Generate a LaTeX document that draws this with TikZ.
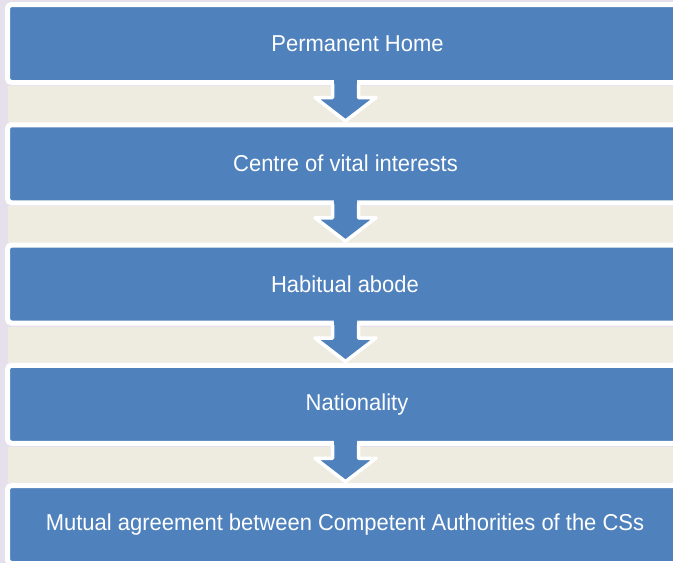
\documentclass[tikz,border=0pt]{standalone}
\usepackage{fontspec}
\setmainfont{Liberation Sans}[FakeStretch=0.955]
\definecolor{boxblue}{HTML}{4F81BD}
\definecolor{bandbeige}{HTML}{EEECE1}
\definecolor{bglav}{HTML}{E6E0EC}
\begin{document}
\begin{tikzpicture}[x=1pt,y=-1pt,
  stepbox/.style={fill=boxblue,draw=white,line width=5pt,rounded corners=4pt},
  band/.style={fill=bandbeige,draw=none},
  downarrow/.style={fill=boxblue,draw=white,line width=3.5pt,line join=round},
  label/.style={text=white,font=\fontsize{23}{26}\selectfont,inner sep=0pt,anchor=center}]
\useasboundingbox (0,0) rectangle (673,563);
\clip (0,0) rectangle (673,563);
\fill[bglav] (0,0) rectangle (673,563);
% bands
\foreach \i in {0,1,2,3}{
  \fill[bandbeige] (8,{86+120.25*\i}) rectangle (680,{122.5+120.25*\i});
}
% boxes
\foreach \i in {0,...,4}{
  \draw[stepbox] (7.5,{4.5+120.25*\i}) rectangle (700,{82.5+120.25*\i});
}
% arrows
\foreach \i in {0,1,2,3}{
  \pgfmathsetmacro{\yo}{120.25*\i}
  \filldraw[downarrow] (332.5,{81+\yo}) -- (332.5,{97.5+\yo}) -- (315,{97.5+\yo}) -- (345.5,{121+\yo}) -- (376,{97.5+\yo}) -- (358.5,{97.5+\yo}) -- (358.5,{81+\yo});
  \fill[boxblue] (334.3,{76+\yo}) rectangle (356.7,{84+\yo});
}
% labels
\node[label] (n1) at (357.5,43.5) {Permanent Home};
\node[label] (n2) at (345.5,163.75) {Centre of vital interests};
\node[label] (n3) at (345,284) {Habitual abode};
\node[label] (n4) at (357,405) {Nationality};
\node[label] (n5) at (345,524.5) {Mutual agreement between Competent Authorities of the CSs};
\end{tikzpicture}
\end{document}
